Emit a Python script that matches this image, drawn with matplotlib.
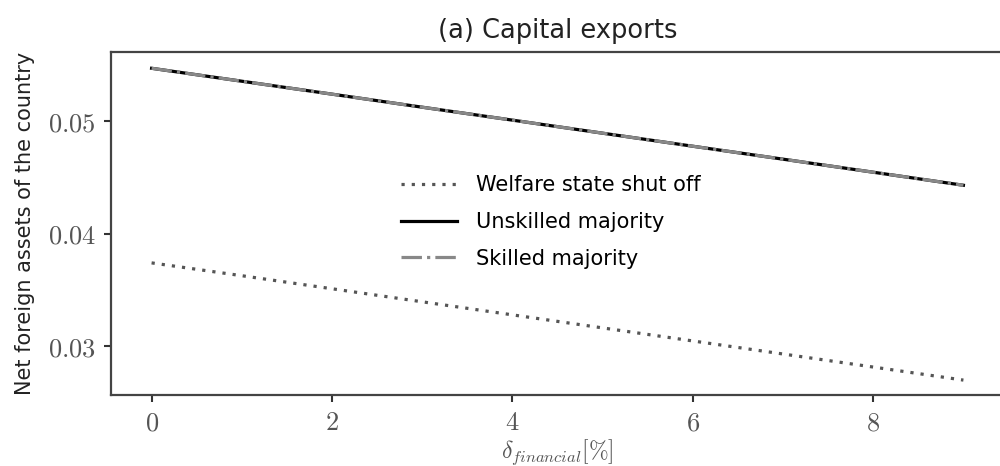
import matplotlib
matplotlib.use("Agg")
import matplotlib.pyplot as plt
from matplotlib.ticker import FuncFormatter

plt.rcParams['mathtext.fontset'] = 'cm'
plt.rcParams['font.family'] = ['DejaVu Sans']

delta = [0, 1, 2, 3, 4, 5, 6, 7, 8, 9]
welfare_off = [0.0374, 0.03626, 0.0351, 0.03394, 0.03278, 0.03162, 0.03046, 0.0293, 0.02814, 0.02698]
unskilled = [0.0547, 0.05355, 0.0524, 0.05124, 0.05009, 0.04893, 0.04777, 0.04662, 0.04546, 0.0443]
skilled = [0.0547, 0.05355, 0.0524, 0.05124, 0.05009, 0.04893, 0.04777, 0.04662, 0.04546, 0.0443]
xticks = [0, 2, 4, 6, 8]
yticks = [0.03, 0.04, 0.05]

fig = plt.figure(figsize=(10, 4.66), dpi=100)
ax = fig.add_axes([0.111, 0.152, 0.893, 0.736])

ax.plot(delta, welfare_off, linestyle=(0, (1, 2.2)), color='#555555', lw=2.3,
        label='Welfare state shut off')
ax.plot(delta, unskilled, linestyle='-', color='black', lw=2.3, label='Unskilled majority')
ax.plot(delta, skilled, linestyle='-.', color='#888888', lw=2.3, label='Skilled majority')

ax.set_xlim(-0.45, 9.45)
ax.set_ylim(0.02564, 0.05613)
ax.set_xticks(xticks)
ax.set_yticks(yticks)
ax.xaxis.set_major_formatter(FuncFormatter(lambda v, p: r'$%d$' % v))
ax.yaxis.set_major_formatter(FuncFormatter(lambda v, p: r'$%.2f$' % v))
ax.tick_params(axis='both', labelsize=19, labelcolor='#555555', color='#333333',
               length=5, width=1.5, pad=6)
for s in ax.spines.values():
    s.set_color('#444444')
    s.set_linewidth(1.6)

ax.set_xlabel(r'$\delta_{financial}[\%]$', fontsize=17, color='#555555', labelpad=1)
ax.set_ylabel('Net foreign assets of the country', fontsize=15, color='#222222', labelpad=9)
ax.set_title('(a) Capital exports', fontsize=18.5, color='#222222', pad=10)

ax.legend(loc='center', bbox_to_anchor=(0.492, 0.505), frameon=False, fontsize=15,
          handlelength=2.7, labelspacing=0.8, handletextpad=0.9)

fig.savefig('out.png', dpi=100)
